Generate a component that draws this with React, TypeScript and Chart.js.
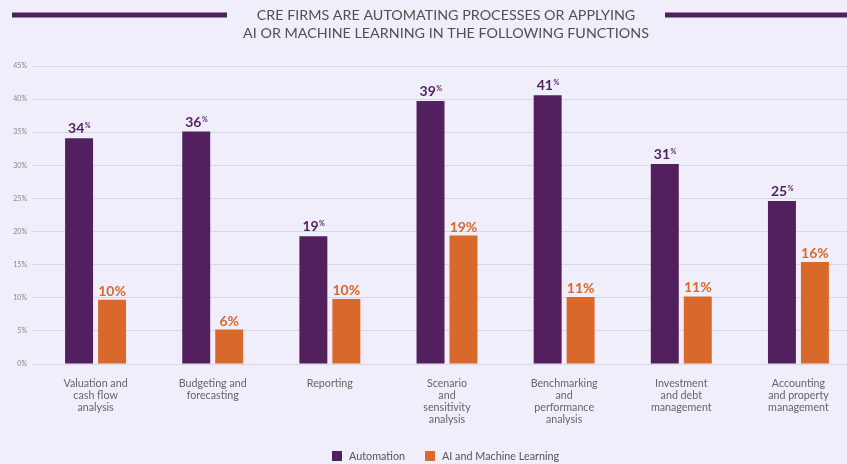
import React, { useEffect, useRef } from "react";
import { Chart, registerables } from "chart.js";

Chart.register(...registerables);

const categories: string[][] = [
  ["Valuation and", "cash flow", "analysis"],
  ["Budgeting and", "forecasting"],
  ["Reporting"],
  ["Scenario", "and", "sensitivity", "analysis"],
  ["Benchmarking", "and", "performance", "analysis"],
  ["Investment", "and debt", "management"],
  ["Accounting", "and property", "management"],
];
const automation = [34.1, 35.1, 19.3, 39.7, 40.6, 30.2, 24.6];
const aiMl = [9.7, 5.2, 9.8, 19.4, 10.1, 10.2, 15.4];
const automationLabels = ["34", "36", "19", "39", "41", "31", "25"];
const aiMlLabels = ["10%", "6%", "10%", "19%", "11%", "11%", "16%"];
const seriesNames = ["Automation", "AI and Machine Learning"];
const titleLines = [
  "CRE FIRMS ARE AUTOMATING PROCESSES OR APPLYING",
  "AI OR MACHINE LEARNING IN THE FOLLOWING FUNCTIONS",
];
const yMin = 0;
const yMax = 45;
const yStep = 5;

const PURPLE = "#521f5f";
const ORANGE = "#d9692a";
const BG = "#efeefa";
const FONT = "Lato, 'Open Sans', sans-serif";

const decorPlugin = {
  id: "decor",
  beforeDraw(chart: any) {
    const { ctx, width, height } = chart;
    ctx.save();
    ctx.fillStyle = BG;
    ctx.fillRect(0, 0, width, height);
    ctx.restore();
  },
  afterDraw(chart: any) {
    const { ctx } = chart;
    ctx.save();
    // title
    ctx.fillStyle = "#505050";
    ctx.font = `14.3px ${FONT}`;
    ctx.textAlign = "center";
    ctx.textBaseline = "middle";
    ctx.fillText(titleLines[0], 446, 15);
    ctx.fillText(titleLines[1], 446, 33);
    // decorative lines
    ctx.strokeStyle = "#4e2160";
    ctx.lineWidth = 5;
    ctx.beginPath();
    ctx.moveTo(12, 15);
    ctx.lineTo(227, 15);
    ctx.moveTo(665, 15);
    ctx.lineTo(892, 15);
    ctx.stroke();
    // legend
    ctx.font = `10.8px ${FONT}`;
    ctx.textAlign = "left";
    ctx.fillStyle = PURPLE;
    ctx.fillRect(332, 451, 10, 10);
    ctx.fillStyle = "#555555";
    ctx.fillText(seriesNames[0], 349, 456.5);
    ctx.fillStyle = ORANGE;
    ctx.fillRect(425, 451, 10, 10);
    ctx.fillStyle = "#555555";
    ctx.fillText(seriesNames[1], 442, 456.5);
    ctx.restore();
  },
  afterDatasetsDraw(chart: any) {
    const { ctx } = chart;
    ctx.save();
    ctx.textBaseline = "alphabetic";
    ctx.textAlign = "left";
    const m0 = chart.getDatasetMeta(0);
    m0.data.forEach((bar: any, i: number) => {
      const num = automationLabels[i];
      ctx.font = `bold 14px ${FONT}`;
      const wn = ctx.measureText(num).width;
      ctx.font = `bold 7px ${FONT}`;
      const wp = ctx.measureText("%").width;
      const start = bar.x - (wn + wp) / 2;
      ctx.fillStyle = PURPLE;
      ctx.font = `bold 14px ${FONT}`;
      ctx.fillText(num, start, bar.y - 5);
      ctx.font = `bold 7px ${FONT}`;
      ctx.fillText("%", start + wn + 0.5, bar.y - 10);
    });
    const m1 = chart.getDatasetMeta(1);
    m1.data.forEach((bar: any, i: number) => {
      ctx.font = `bold 14px ${FONT}`;
      ctx.fillStyle = ORANGE;
      ctx.textAlign = "center";
      ctx.fillText(aiMlLabels[i], bar.x, bar.y - 4);
    });
    ctx.restore();
  },
};

export default function App() {
  const ref = useRef<HTMLCanvasElement | null>(null);
  useEffect(() => {
    if (!ref.current) return;
    const chart = new Chart(ref.current, {
      type: "bar",
      data: {
        labels: categories,
        datasets: [
          {
            label: seriesNames[0],
            data: automation,
            backgroundColor: PURPLE,
            categoryPercentage: 0.563,
            barPercentage: 0.848,
          },
          {
            label: seriesNames[1],
            data: aiMl,
            backgroundColor: ORANGE,
            categoryPercentage: 0.563,
            barPercentage: 0.848,
          },
        ],
      },
      options: {
        animation: false,
        responsive: true,
        maintainAspectRatio: false,
        layout: { padding: { left: 0, top: 66, right: 35, bottom: 0 } },
        plugins: {
          legend: { display: false },
          title: { display: false },
          tooltip: { enabled: false },
        },
        scales: {
          x: {
            grid: { display: false, drawTicks: false },
            border: { display: false },
            ticks: {
              padding: 14,
              color: "#666666",
              font: { family: FONT, size: 10.7, lineHeight: 1.1 },
              maxRotation: 0,
              autoSkip: false,
            },
            afterFit(scale: any) {
              scale.height = 100;
            },
          },
          y: {
            min: yMin,
            max: yMax,
            border: { display: false },
            grid: { color: "#d8d7e2", lineWidth: 1, drawTicks: true, tickLength: 5 },
            ticks: {
              stepSize: yStep,
              padding: 5,
              color: "#888888",
              font: { family: FONT, size: 7 },
              callback: (v: any) => `${v}%`,
            },
            afterFit(scale: any) {
              scale.width = 37;
            },
          },
        },
      },
      plugins: [decorPlugin],
    });
    return () => chart.destroy();
  }, []);
  return (
    <div
      style={{
        position: "fixed",
        left: 0,
        top: 0,
        width: 847,
        height: 464,
        overflow: "hidden",
        background: BG,
      }}
    >
      <div style={{ position: "absolute", left: 0, top: 0, width: 892, height: 464 }}>
        <canvas ref={ref} />
      </div>
    </div>
  );
}
